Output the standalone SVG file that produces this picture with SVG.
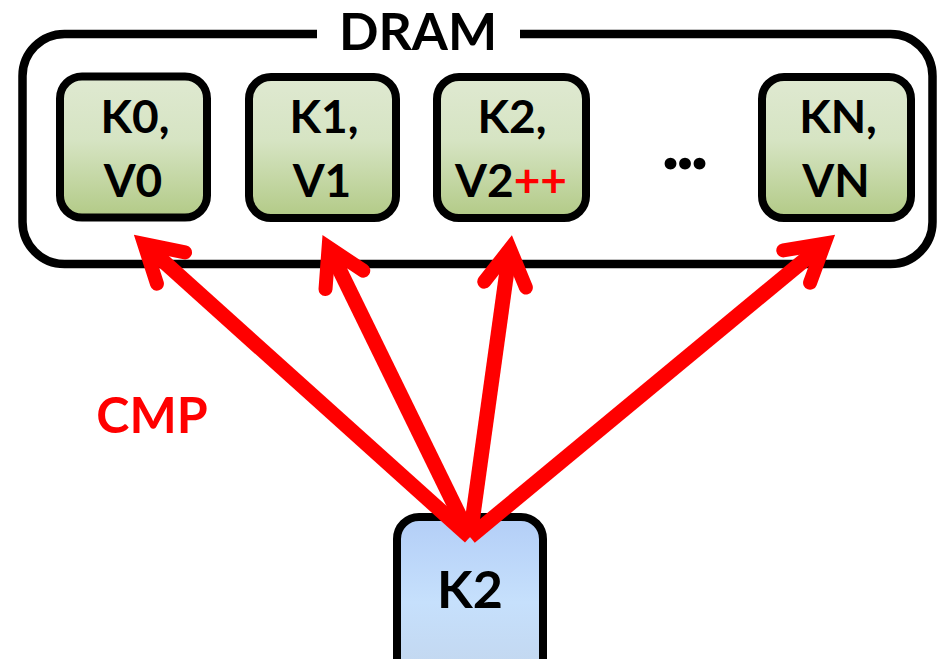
<svg xmlns="http://www.w3.org/2000/svg" width="938" height="659" viewBox="0 0 938 659">
<style>
.t{font-family:Lato,"Open Sans","Liberation Sans",sans-serif;font-weight:bold;text-anchor:middle;fill:#000}
.kv{font-size:46px}
.red{fill:#ff0000}
.box{stroke:#000;stroke-width:8}
.arr{stroke:#ff0000;stroke-width:15;fill:none}
</style>
<defs>
<linearGradient id="g" x1="0" y1="0" x2="0" y2="1">
<stop offset="0" stop-color="#dfe9d1"/>
<stop offset="0.45" stop-color="#d6e4c3"/>
<stop offset="1" stop-color="#b2ca86"/>
</linearGradient>
<linearGradient id="b" x1="0" y1="0" x2="0" y2="1">
<stop offset="0" stop-color="#b3cef7"/>
<stop offset="0.5" stop-color="#c6e0fc"/>
<stop offset="1" stop-color="#c2d5ec"/>
</linearGradient>
<marker id="ah" markerUnits="userSpaceOnUse" orient="auto" refX="0" refY="0" markerWidth="1" markerHeight="1" overflow="visible">
<path d="M-36,-21 L0,0 L-36,21" fill="none" stroke="#ff0000" stroke-width="14" stroke-linecap="round" stroke-linejoin="miter" stroke-miterlimit="10"/>
</marker>
</defs>
<g id="dram">
<path d="M520,34 H890.5 A42,42 0 0 1 932.5,76 V222 A42,42 0 0 1 890.5,264 H64.5 A42,42 0 0 1 22.5,222 V76 A42,42 0 0 1 64.5,34 H317" fill="none" stroke="#000" stroke-width="8.5"/>
<text class="t" x="418" y="50" font-size="52">DRAM</text>
</g>
<g id="kv0">
<rect class="box" x="60" y="76.5" width="147" height="141" rx="22" fill="url(#g)"/>
<text class="t kv" x="135" y="133">K0,</text>
<text class="t kv" x="133" y="197">V0</text>
</g>
<g id="kv1">
<rect class="box" x="249" y="77" width="147" height="141" rx="22" fill="url(#g)"/>
<text class="t kv" x="324" y="133">K1,</text>
<text class="t kv" x="322" y="197">V1</text>
</g>
<g id="kv2">
<rect class="box" x="437" y="77" width="149" height="141" rx="22" fill="url(#g)"/>
<text class="t kv" x="512" y="133">K2,</text>
<text class="t kv" x="511" y="197">V2<tspan class="red">++</tspan></text>
</g>
<g id="ellipsis">
<text class="t" x="683" y="169" font-size="78" letter-spacing="-4">...</text>
</g>
<g id="kvn">
<rect class="box" x="762" y="77" width="149" height="141" rx="22" fill="url(#g)"/>
<text class="t kv" x="838" y="133">KN,</text>
<text class="t kv" x="836" y="197">VN</text>
</g>
<g id="cmp">
<text class="t red" x="152" y="433" font-size="50">CMP</text>
</g>
<g id="key">
<rect class="box" x="397" y="517" width="146" height="170" rx="22" fill="url(#b)"/>
<text class="t" x="470" y="608" font-size="52">K2</text>
</g>
<g id="connectors">
<line class="arr" x1="470" y1="537" x2="144.2" y2="244" marker-end="url(#ah)"/>
<line class="arr" x1="470" y1="537" x2="328.6" y2="247.5" marker-end="url(#ah)"/>
<line class="arr" x1="470" y1="537" x2="510" y2="248.9" marker-end="url(#ah)"/>
<line class="arr" x1="470" y1="537" x2="824.4" y2="243.6" marker-end="url(#ah)"/>
</g>
</svg>
